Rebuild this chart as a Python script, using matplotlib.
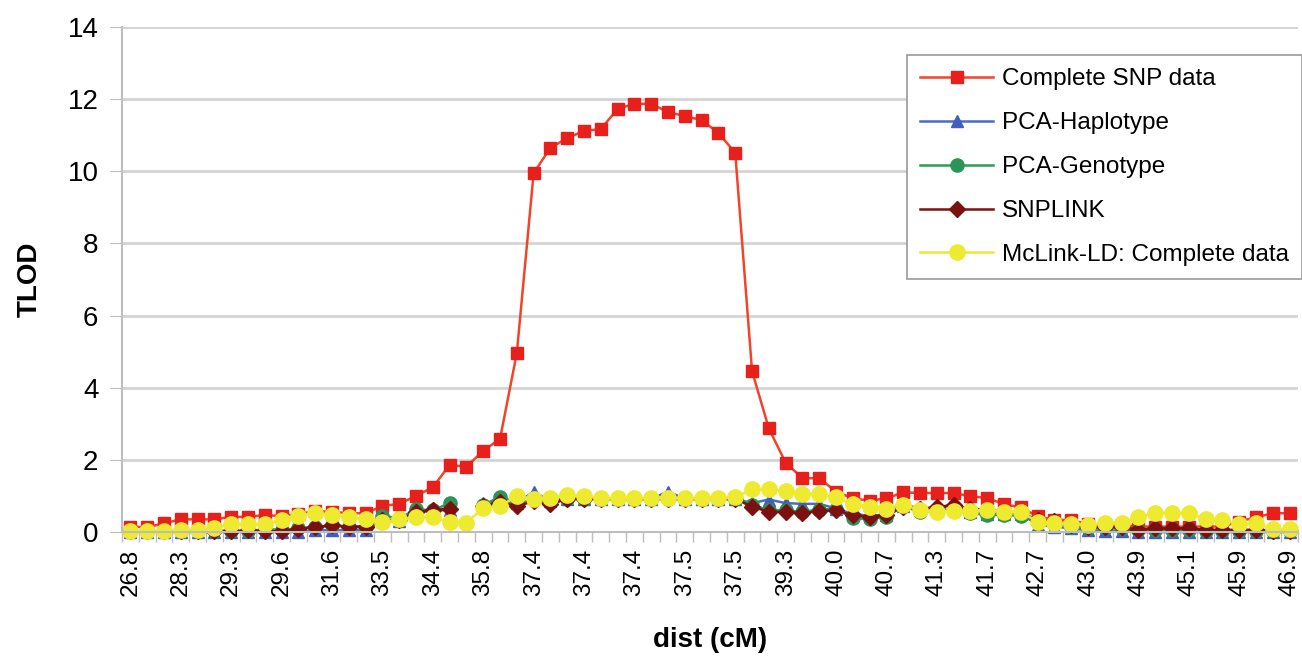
import matplotlib

matplotlib.use('Agg')
import matplotlib.pyplot as plt
import numpy as np

plt.rcParams['font.family'] = ['Liberation Sans', 'DejaVu Sans']

nan = np.nan

# x tick labels (every 3rd marker position)
dist_labels = ['26.8', '28.3', '29.3', '29.6', '31.6', '33.5', '34.4', '35.8',
               '37.4', '37.4', '37.4', '37.5', '37.5', '39.3', '40.0', '40.7',
               '41.3', '41.7', '42.7', '43.0', '43.9', '45.1', '45.9', '46.9']

complete_snp = [0.15, 0.13, 0.24, 0.35, 0.35, 0.35, 0.42, 0.42, 0.47, 0.44,
                0.50, 0.58, 0.56, 0.52, 0.52, 0.72, 0.78, 1.00, 1.24, 1.86,
                1.81, 2.25, 2.58, 4.96, 9.95, 10.65, 10.92, 11.12, 11.17, 11.73,
                11.87, 11.87, 11.64, 11.53, 11.42, 11.06, 10.51, 4.46, 2.87, 1.92,
                1.49, 1.49, 1.12, 0.93, 0.87, 0.93, 1.10, 1.08, 1.08, 1.08,
                0.99, 0.94, 0.77, 0.68, 0.43, 0.34, 0.33, 0.22, 0.20, 0.20,
                0.15, 0.15, 0.15, 0.15, 0.15, 0.15, 0.29, 0.41, 0.52, 0.52]

pca_haplotype = [0.00, 0.00, 0.00, 0.00, 0.00, 0.00, 0.00, 0.00, 0.00, 0.00,
                 0.00, 0.05, 0.05, 0.05, 0.05, 0.30, 0.30, 0.55, 0.58, 0.62,
                 nan, 0.80, 0.85, 0.80, 1.12, 0.85, 0.92, 0.92, 0.92, 0.92,
                 0.92, 0.92, 1.12, 0.92, 0.92, 0.92, 0.92, 0.80, 0.90, 0.80,
                 0.78, 0.78, 0.65, 0.50, 0.45, 0.48, 0.72, 0.68, 0.65, 0.75,
                 0.55, 0.50, 0.50, 0.50, 0.20, 0.15, 0.10, 0.05, 0.03, 0.03,
                 0.00, 0.00, 0.00, 0.00, 0.00, 0.00, 0.00, 0.00, 0.00, 0.00]

pca_genotype = [0.02, 0.02, 0.02, 0.02, 0.02, 0.06, 0.02, 0.02, 0.08, 0.06,
                0.10, 0.15, 0.18, 0.15, 0.15, 0.45, 0.38, 0.63, 0.60, 0.80,
                nan, 0.74, 0.98, 0.80, 0.88, 0.82, 0.92, 0.92, 0.92, 0.92,
                0.92, 0.92, 0.92, 0.92, 0.92, 0.92, 0.92, 0.76, 0.60, 0.60,
                0.56, 0.62, 0.64, 0.38, 0.36, 0.42, 0.72, 0.55, 0.60, 0.62,
                0.52, 0.47, 0.47, 0.45, 0.30, 0.28, 0.15, 0.12, 0.10, 0.10,
                0.05, 0.05, 0.05, 0.05, 0.04, 0.04, 0.04, 0.04, 0.04, 0.02]

snplink = [0.02, 0.02, 0.02, 0.02, 0.02, 0.02, 0.02, 0.05, 0.02, 0.02,
           0.08, 0.13, 0.18, 0.15, 0.15, 0.33, 0.33, 0.56, 0.60, 0.65,
           nan, 0.72, 0.82, 0.72, 0.85, 0.77, 0.92, 0.92, 0.92, 0.92,
           0.92, 0.92, 0.92, 0.92, 0.92, 0.92, 0.92, 0.70, 0.56, 0.56,
           0.52, 0.58, 0.60, 0.46, 0.42, 0.47, 0.70, 0.65, 0.68, 0.76,
           0.64, 0.62, 0.55, 0.55, 0.32, 0.30, 0.20, 0.15, 0.15, 0.15,
           0.06, 0.10, 0.10, 0.10, 0.06, 0.06, 0.06, 0.06, 0.04, 0.02]

mclink_ld = [0.03, 0.03, 0.03, 0.05, 0.05, 0.10, 0.22, 0.21, 0.22, 0.33,
             0.45, 0.53, 0.46, 0.41, 0.35, 0.27, 0.35, 0.41, 0.41, 0.27,
             0.26, 0.66, 0.71, 1.00, 0.92, 0.94, 1.03, 1.00, 0.94, 0.94,
             0.94, 0.94, 0.94, 0.94, 0.94, 0.95, 0.96, 1.18, 1.18, 1.14,
             1.05, 1.05, 0.96, 0.78, 0.70, 0.65, 0.76, 0.60, 0.56, 0.59,
             0.59, 0.61, 0.56, 0.56, 0.28, 0.25, 0.22, 0.19, 0.25, 0.25,
             0.42, 0.53, 0.53, 0.53, 0.35, 0.33, 0.22, 0.24, 0.07, 0.07]

x = np.arange(len(complete_snp))

fig = plt.figure(figsize=(13.02, 6.62), dpi=100)
ax = fig.add_axes([0.0937, 0.1964, 0.9033, 0.7628])

# series: (values, label, line colour, marker colour, marker, size)
series = [
    (complete_snp, 'Complete SNP data', '#f0452a', '#e8201c', 's', 9),
    (pca_haplotype, 'PCA-Haplotype', '#4a6cc4', '#3f5fbf', '^', 9),
    (pca_genotype, 'PCA-Genotype', '#2e9a5c', '#2a9459', 'o', 9.5),
    (snplink, 'SNPLINK', '#7a1212', '#7a1010', 'D', 8),
    (mclink_ld, 'McLink-LD: Complete data', '#ece83a', '#eeea30', 'o', 11),
]

for vals, label, lc, mc, mk, ms in series:
    ax.plot(x, vals, color=lc, linewidth=1.8, marker=mk, markersize=ms,
            markerfacecolor=mc, markeredgecolor=mc, label=label, clip_on=False)

ax.set_xlim(-0.5, len(x) - 0.5)
ax.set_ylim(0, 14)
ax.set_yticks(np.arange(0, 15, 2))
ax.yaxis.grid(True, color='#d4d4d4', linewidth=2)
ax.set_axisbelow(True)

ax.set_xticks(x[::3])
ax.set_xticklabels(dist_labels, rotation=90, fontsize=17.5)
ax.set_xticks(np.arange(len(x) + 1) - 0.5, minor=True)
ax.tick_params(axis='x', which='major', length=0, pad=12)
ax.tick_params(axis='x', which='minor', length=7, color='#bdbdbd', width=1)
ax.tick_params(axis='y', labelsize=20, length=9, color='#bdbdbd', pad=8)

for side in ['top', 'right']:
    ax.spines[side].set_visible(False)
for side in ['left', 'bottom']:
    ax.spines[side].set_color('#bdbdbd')
    ax.spines[side].set_linewidth(1.5)

ax.set_ylabel('TLOD', fontsize=20, fontweight='bold', labelpad=18)
ax.set_xlabel('dist (cM)', fontsize=20, fontweight='bold', labelpad=22)

legend = ax.legend(loc='upper right', bbox_to_anchor=(1.0034, 0.9446),
                   fontsize=17.5, frameon=True, fancybox=False,
                   edgecolor='#9a9a9a', framealpha=1.0, labelspacing=0.9,
                   handlelength=3.0, handletextpad=0.35, borderpad=0.55,
                   borderaxespad=0)
legend.get_frame().set_linewidth(1.2)

fig.savefig('out.png', dpi=100)
